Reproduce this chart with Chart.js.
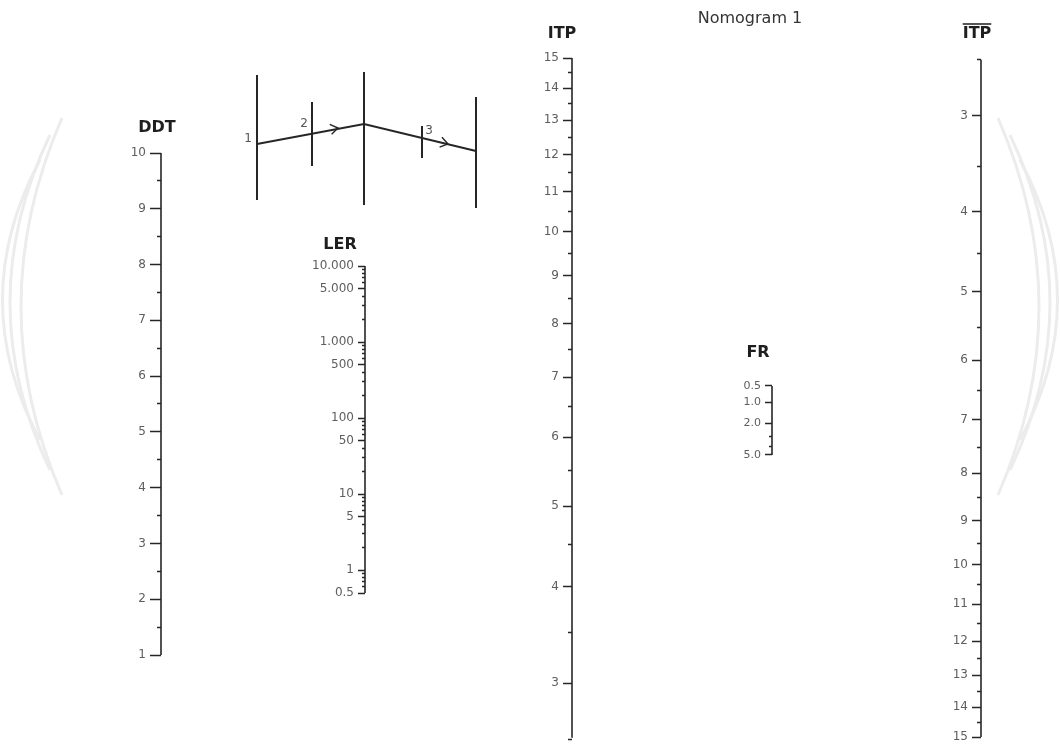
<!DOCTYPE html>
<html>
<head>
<meta charset="utf-8">
<script src="https://cdn.jsdelivr.net/npm/chart.js@4.4.1/dist/chart.umd.min.js"></script>
<style>
  body { margin: 0; background: #fff; }
  #wrap { width: 1060px; height: 745px; }
</style>
</head>
<body>
<div id="wrap"><canvas id="nomo" width="1060" height="745"></canvas></div>
<script>
// scale values
const ddtMajor = [1, 2, 3, 4, 5, 6, 7, 8, 9, 10];
const ddtMinor = [1.5, 2.5, 3.5, 4.5, 5.5, 6.5, 7.5, 8.5, 9.5];

const lerMajor = [0.5, 1, 5, 10, 50, 100, 500, 1000, 5000, 10000];
const lerMinor = [0.6, 0.7, 0.8, 0.9, 2, 3, 4, 6, 7, 8, 9, 20, 30, 40, 60, 70, 80, 90,
  200, 300, 400, 600, 700, 800, 900, 2000, 3000, 4000, 6000, 7000, 8000, 9000];

const itpMajor = [3, 4, 5, 6, 7, 8, 9, 10, 11, 12, 13, 14, 15];
const itpMinor = [2.5, 3.5, 4.5, 5.5, 6.5, 7.5, 8.5, 9.5, 10.5, 11.5, 12.5, 13.5, 14.5];

const frMajor = [0.5, 1, 2, 5];
const frMinor = [3, 4];

const INK = "#262626";
const LABEL = "#5e5e5e";
const FONT = "'DejaVu Sans', 'Liberation Sans', sans-serif";

// transforms of the non-standard scales
const itpT = (v) => Math.log(v + 1.5);
const itpInv = (t) => Math.round(Math.exp(t) - 1.5);
const frT = (v) => Math.log(v + 0.5);
const frInv = (t) => (Math.exp(t) - 0.5).toFixed(1);
const lin = (v) => v;

// where each scale sits on the page: x, and the pixel rows of its two end values
const AX = { ddt: 161, ler: 365, itp: 572, fr: 772, itpBar: 981 };
const placing = {
  ddt: [lin, 10, 153, 1, 655, false],
  ler: [Math.log10, 10000, 266, 0.5, 593, true],
  itp: [itpT, 15, 58, 3, 683, false],
  bar: [itpT, 3, 116, 15, 737, false],
  fr: [frT, 0.5, 386, 5, 455, false],
};

// min/max so that topVal lands at topPx and botVal at botPx
function frame(ca, f, topVal, topPx, botVal, botPx, log) {
  const u1 = f(topVal), u2 = f(botVal);
  const d = (u2 - u1) / (botPx - topPx);
  const a = u1 - (topPx - ca.top) * d, b = u2 + (ca.bottom - botPx) * d;
  let min = Math.min(a, b), max = Math.max(a, b);
  if (log) { min = Math.pow(10, min); max = Math.pow(10, max); }
  return { min, max, reverse: d > 0 };
}

function thousands(v) {
  return String(v).replace(/\B(?=(\d{3})+(?!\d))/g, ".");
}

// one y scale; labels are right-aligned on the scale's x, so the label
// scale is shifted left of the tick scale
function axis(pos, type, tickVals, len, fmt, size) {
  return {
    type: type,
    axis: "y",
    position: { x: pos },
    bounds: "data",
    afterBuildTicks: (s) => { s.ticks = tickVals.map((v) => ({ value: v })); },
    grid: { drawOnChartArea: false, drawTicks: len > 0, tickLength: len, tickWidth: 1.5, tickColor: INK },
    border: { display: false },
    ticks: {
      display: !!fmt,
      autoSkip: false,
      padding: 0,
      color: LABEL,
      font: { family: FONT, size: size || 12 },
      callback: fmt || ((v) => ""),
    },
  };
}

function spine(x, axisId, top, bot) {
  return {
    data: [{ x: x, y: top }, { x: x, y: bot }],
    yAxisID: axisId,
    showLine: true,
    borderColor: INK,
    borderWidth: 1.6,
    pointRadius: 0,
  };
}

const scales = {
  x: { type: "linear", axis: "x", min: 0, max: 1060, display: false },
  ddtMaj: axis(AX.ddt, "linear", ddtMajor, 11),
  ddtMin: axis(AX.ddt, "linear", ddtMinor, 4),
  ddtLab: axis(AX.ddt - 15, "linear", ddtMajor, 0, (v) => v, 12),
  lerMaj: axis(AX.ler, "logarithmic", lerMajor, 7),
  lerMin: axis(AX.ler, "logarithmic", lerMinor, 3),
  lerLab: axis(AX.ler - 11, "logarithmic", lerMajor, 0, (v) => thousands(v), 12),
  itpMaj: axis(AX.itp, "linear", itpMajor.map(itpT), 9),
  itpMin: axis(AX.itp, "linear", itpMinor.map(itpT), 4),
  itpLab: axis(AX.itp - 13, "linear", itpMajor.map(itpT), 0, (t) => itpInv(t), 12),
  barMaj: axis(AX.itpBar, "linear", itpMajor.map(itpT), 9),
  barMin: axis(AX.itpBar, "linear", itpMinor.map(itpT), 4),
  barLab: axis(AX.itpBar - 13, "linear", itpMajor.map(itpT), 0, (t) => itpInv(t), 12),
  frMaj: axis(AX.fr, "linear", frMajor.map(frT), 7),
  frMin: axis(AX.fr, "linear", frMinor.map(frT), 3),
  frLab: axis(AX.fr - 11, "linear", frMajor.map(frT), 0, (t) => frInv(t), 11),
};

function applyFrames(ca) {
  Object.keys(placing).forEach((key) => {
    const fr = frame(ca, ...placing[key]);
    ["Maj", "Min", "Lab"].forEach((k) => {
      const s = scales[key + k];
      s.min = fr.min; s.max = fr.max; s.reverse = fr.reverse;
    });
  });
}
applyFrames({ top: 0, bottom: 745 });

const datasets = [
  spine(AX.ddt, "ddtMaj", 10, 1),
  spine(AX.ler, "lerMaj", 10000, 0.5),
  spine(AX.itp, "itpMaj", itpT(15), itpT(2.5)),
  spine(AX.itpBar, "barMaj", itpT(2.5), itpT(15)),
  spine(AX.fr, "frMaj", frT(0.5), frT(5)),
];

// faint background swooshes, titles and the little how-to sketch
const decor = {
  id: "decor",
  beforeDraw(chart) {
    const c = chart.ctx;
    c.save();
    c.strokeStyle = "#ececec";
    c.lineWidth = 3;
    [[62, 118, -20, 495], [50, 135, -30, 470], [40, 160, -35, 440]].forEach(([x0, y0, cx, y1]) => {
      c.beginPath();
      c.moveTo(x0, y0);
      c.quadraticCurveTo(cx, (y0 + y1) / 2, x0, y1);
      c.stroke();
      c.beginPath();
      c.moveTo(1060 - x0, y0);
      c.quadraticCurveTo(1060 - cx, (y0 + y1) / 2, 1060 - x0, y1);
      c.stroke();
    });
    c.restore();
  },
  afterDraw(chart) {
    const c = chart.ctx;
    c.save();
    c.fillStyle = "#1e1e1e";
    c.textAlign = "center";
    c.textBaseline = "middle";
    c.font = "bold 16px " + FONT;
    c.fillText("DDT", 157, 128);
    c.fillText("LER", 340, 245);
    c.fillText("ITP", 562, 34);
    c.fillText("FR", 758, 353);
    c.fillText("ITP", 977, 34);
    const w = c.measureText("ITP").width;
    c.strokeStyle = "#1e1e1e";
    c.lineWidth = 1.5;
    c.beginPath();
    c.moveTo(977 - w / 2, 24);
    c.lineTo(977 + w / 2, 24);
    c.stroke();

    c.font = "16px " + FONT;
    c.fillStyle = "#333";
    c.fillText("Nomogram 1", 750, 19);

    // sketch
    c.strokeStyle = INK;
    c.lineWidth = 2;
    const seg = (x1, y1, x2, y2) => { c.beginPath(); c.moveTo(x1, y1); c.lineTo(x2, y2); c.stroke(); };
    seg(257, 75, 257, 200);
    seg(312, 102, 312, 166);
    seg(364, 72, 364, 205);
    seg(422, 126, 422, 158);
    seg(476, 97, 476, 208);
    c.beginPath();
    c.moveTo(257, 144); c.lineTo(364, 124); c.lineTo(476, 151);
    c.stroke();
    const chevron = (x, y, ang) => {
      c.lineWidth = 1.4;
      c.beginPath();
      c.moveTo(x - 9 * Math.cos(ang - 0.6), y - 9 * Math.sin(ang - 0.6));
      c.lineTo(x, y);
      c.lineTo(x - 9 * Math.cos(ang + 0.6), y - 9 * Math.sin(ang + 0.6));
      c.stroke();
    };
    chevron(338, 128, Math.atan2(-20, 107));
    chevron(448, 144, Math.atan2(27, 112));
    c.fillStyle = "#555";
    c.font = "12px " + FONT;
    c.fillText("1", 248, 139);
    c.fillText("2", 304, 124);
    c.fillText("3", 429, 131);
    c.restore();
  },
};

const chart = new Chart(document.getElementById("nomo"), {
  type: "scatter",
  data: { datasets: datasets },
  options: {
    responsive: false,
    animation: false,
    layout: { padding: 0, autoPadding: false },
    plugins: { legend: { display: false }, tooltip: { enabled: false }, title: { display: false } },
    scales: scales,
  },
  plugins: [decor],
});

// the label scales pad the chart area a little; refit to the real area
applyFrames(chart.chartArea);
chart.options.scales = scales;
chart.update();
</script>
</body>
</html>
